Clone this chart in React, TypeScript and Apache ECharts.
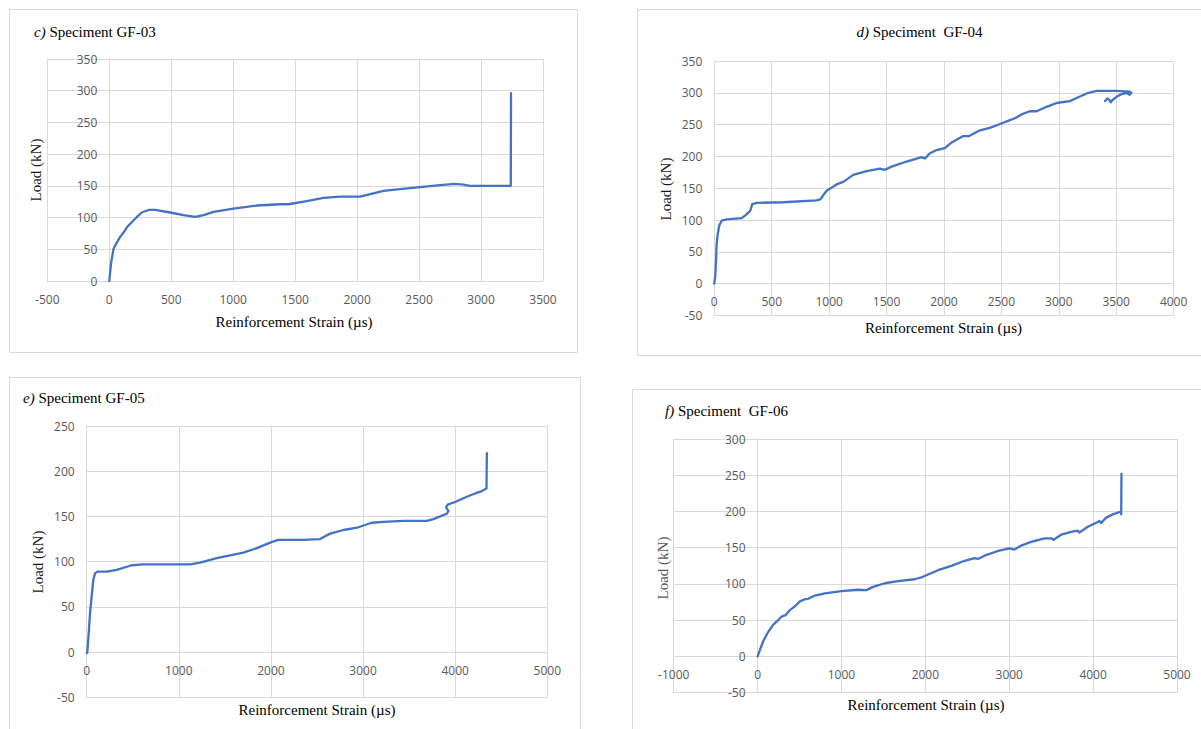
import React, { useEffect, useRef } from "react";
import * as echarts from "echarts";

// ---- data ----
const cStrain = [0, 16, 35, 56, 89, 121, 148, 183, 223, 263, 317, 371, 492, 599, 694, 761, 841, 1003, 1191, 1379, 1446, 1594, 1728, 1863, 2024, 2065, 2212, 2347, 2508, 2669, 2790, 2858, 2911, 3100, 3240, 3242];
const cLoad = [0, 30, 51, 59, 70, 78, 86, 93, 101, 108, 112, 112, 108, 104, 101, 104, 109, 114, 119, 121, 121, 126, 131, 133, 133, 135, 142, 145, 148, 151, 153, 152, 150, 150, 150, 296];

const dStrain = [0, 9, 15, 20, 29, 44, 64, 107, 238, 267, 311, 319, 331, 369, 601, 891, 926, 949, 978, 1022, 1065, 1123, 1210, 1326, 1443, 1486, 1544, 1675, 1805, 1835, 1878, 1936, 2008, 2067, 2168, 2220, 2313, 2400, 2488, 2575, 2618, 2676, 2748, 2807, 2894, 2981, 3097, 3170, 3243, 3330, 3500, 3620, 3632, 3615, 3600, 3577, 3549, 3505, 3470, 3453, 3440, 3423, 3403];
const dLoad = [0, 14, 35, 61, 77, 92, 99, 101, 103, 107, 114, 118, 125, 127, 128, 131, 133, 139, 146, 151, 156, 160, 171, 177, 181, 179, 184, 192, 199, 197, 205, 210, 213, 222, 232, 232, 241, 245, 251, 257, 260, 266, 271, 271, 278, 284, 287, 293, 299, 303, 303, 302, 300, 297, 299, 299, 298, 294, 289, 285, 289, 291, 287];

const eStrain = [0, 7, 22, 36, 54, 72, 90, 116, 217, 326, 489, 615, 1122, 1230, 1411, 1701, 1846, 1991, 2081, 2353, 2534, 2588, 2642, 2787, 2950, 3004, 3094, 3221, 3438, 3692, 3764, 3836, 3909, 3927, 3901, 3919, 3999, 4108, 4180, 4234, 4290, 4340, 4344];
const eLoad = [-1, 0, 21, 43, 62, 80, 87, 89, 89, 91, 96, 97, 97, 99, 104, 110, 115, 121, 124, 124, 125, 128, 131, 135, 138, 140, 143, 144, 145, 145, 147, 150, 153, 156, 160, 163, 166, 171, 174, 176, 178, 181, 220];

const fStrain = [0, 28, 67, 127, 187, 246, 286, 333, 385, 444, 504, 563, 603, 683, 802, 1000, 1198, 1298, 1377, 1516, 1675, 1873, 1952, 2032, 2151, 2310, 2468, 2587, 2627, 2706, 2865, 3004, 3063, 3143, 3262, 3421, 3500, 3528, 3619, 3738, 3817, 3837, 3937, 4056, 4075, 4095, 4155, 4234, 4313, 4335, 4335, 4338];
const fLoad = [0, 9, 21, 34, 44, 50, 55, 57, 64, 69, 76, 79, 79.5, 84, 87, 90, 92, 91.5, 96, 101, 104, 106.5, 109, 113, 119, 125, 132, 135.5, 134.5, 139, 145.5, 149, 147.5, 153, 158, 163, 163, 161, 168, 172, 173.5, 171, 179, 185.5, 187, 184, 191.5, 196, 199, 200, 196, 252];

const panelLetters = ["c)", "d)", "e)", "f)"];
const panelNames = ["Speciment GF-03", "Speciment  GF-04", "Speciment GF-05", "Speciment  GF-06"];
const xAxisTitle = "Reinforcement Strain (µs)";
const yAxisTitle = "Load (kN)";

// axis ranges [min, max, interval]
const xRanges = [
  [-500, 3500, 500],
  [0, 4000, 500],
  [0, 5000, 1000],
  [-1000, 5000, 1000],
];
const yRanges = [
  [0, 350, 50],
  [-50, 350, 50],
  [-50, 250, 50],
  [-50, 300, 50],
];

const pairs = (xs: number[], ys: number[]) => xs.map((x, i) => [x, ys[i]]);

export default function App() {
  const ref = useRef<HTMLDivElement>(null);

  useEffect(() => {
    if (!ref.current) return;
    const chart = echarts.init(ref.current, undefined, { renderer: "svg" });

    const grids = [
      { left: 47.3, top: 59, width: 495.7, height: 222 },
      { left: 714.3, top: 61, width: 459.3, height: 254.5 },
      { left: 86.7, top: 426, width: 460.6, height: 271.3 },
      { left: 673.7, top: 439, width: 503.3, height: 253.7 },
    ];

    const gridColor = "#d9d9d9";
    const labelStyle = {
      color: "#595959",
      fontFamily: "Open Sans",
      fontSize: 12,
      margin: 12,
      formatter: (v: number) => String(v),
    };

    // Excel places the axes where the other axis is zero: shift each axis there
    const xAxes = xRanges.map((r, i) => {
      const yr = yRanges[i];
      const shift = ((0 - yr[0]) / (yr[1] - yr[0])) * grids[i].height;
      return {
        type: "value",
        gridIndex: i,
        min: r[0],
        max: r[1],
        interval: r[2],
        position: "bottom",
        offset: -shift,
        axisLine: { show: true, onZero: false, lineStyle: { color: gridColor } },
        axisTick: { show: false },
        splitLine: { show: true, lineStyle: { color: gridColor, width: 1 } },
        axisLabel: labelStyle,
      };
    });
    const yAxes = yRanges.map((r, i) => {
      const xr = xRanges[i];
      const shift = ((0 - xr[0]) / (xr[1] - xr[0])) * grids[i].width;
      return {
        type: "value",
        gridIndex: i,
        min: r[0],
        max: r[1],
        interval: r[2],
        position: "left",
        offset: -shift,
        axisLine: { show: true, onZero: false, lineStyle: { color: gridColor } },
        axisTick: { show: false },
        splitLine: { show: true, lineStyle: { color: gridColor, width: 1 } },
        axisLabel: labelStyle,
      };
    });

    const datasets = [
      pairs(cStrain, cLoad),
      pairs(dStrain, dLoad),
      pairs(eStrain, eLoad),
      pairs(fStrain, fLoad),
    ];

    const series = datasets.map((d, i) => ({
      type: "line",
      name: panelNames[i],
      xAxisIndex: i,
      yAxisIndex: i,
      data: d,
      showSymbol: false,
      symbol: "none",
      smooth: false,
      lineStyle: { color: "#4472C4", width: 2.3, join: "round", cap: "round" },
    }));

    const serif = "'Liberation Serif', 'Times New Roman', serif";
    const borders = [
      { x: 9.5, y: 9.5, w: 568, h: 343 },
      { x: 637.5, y: 9.5, w: 570, h: 346 },
      { x: 9.5, y: 377.5, w: 571, h: 360 },
      { x: 632.5, y: 389.5, w: 580, h: 350 },
    ];
    const titles = [
      { x: 34, y: 32, align: "left" },
      { x: 919.5, y: 32, align: "center" },
      { x: 23, y: 398, align: "left" },
      { x: 665, y: 411, align: "left" },
    ];
    const yNames = [
      { x: 36, y: 170, color: "#1a1a1a" },
      { x: 666, y: 189, color: "#1a1a1a" },
      { x: 38, y: 562, color: "#1a1a1a" },
      { x: 663, y: 568, color: "#595959" },
    ];
    const xNames = [
      { x: 294, y: 322 },
      { x: 943.5, y: 328 },
      { x: 317, y: 710 },
      { x: 926, y: 705 },
    ];

    const graphic: any[] = [];
    borders.forEach((b) =>
      graphic.push({
        type: "rect",
        z: -1,
        shape: { x: b.x, y: b.y, width: b.w, height: b.h },
        style: { fill: "none", stroke: gridColor, lineWidth: 1 },
      })
    );
    titles.forEach((t, i) =>
      graphic.push({
        type: "text",
        x: t.x,
        y: t.y,
        style: {
          text: `{i|${panelLetters[i]}} ${panelNames[i]}`,
          fill: "#000",
          fontFamily: serif,
          fontSize: 15,
          align: t.align,
          verticalAlign: "middle",
          rich: { i: { fontStyle: "italic", fontFamily: serif, fontSize: 15, fill: "#000" } },
        },
      })
    );
    yNames.forEach((t) =>
      graphic.push({
        type: "text",
        x: t.x,
        y: t.y,
        rotation: Math.PI / 2,
        style: {
          text: yAxisTitle,
          fill: t.color,
          fontFamily: serif,
          fontSize: 15,
          align: "center",
          verticalAlign: "middle",
        },
      })
    );
    xNames.forEach((t) =>
      graphic.push({
        type: "text",
        x: t.x,
        y: t.y,
        style: {
          text: xAxisTitle,
          fill: "#000",
          fontFamily: serif,
          fontSize: 15,
          align: "center",
          verticalAlign: "middle",
        },
      })
    );

    chart.setOption({
      animation: false,
      backgroundColor: "#ffffff",
      grid: grids,
      xAxis: xAxes,
      yAxis: yAxes,
      series,
      graphic,
    });

    return () => chart.dispose();
  }, []);

  return (
    <div
      ref={ref}
      style={{ position: "fixed", left: 0, top: 0, width: 1201, height: 729, background: "#fff" }}
    />
  );
}
